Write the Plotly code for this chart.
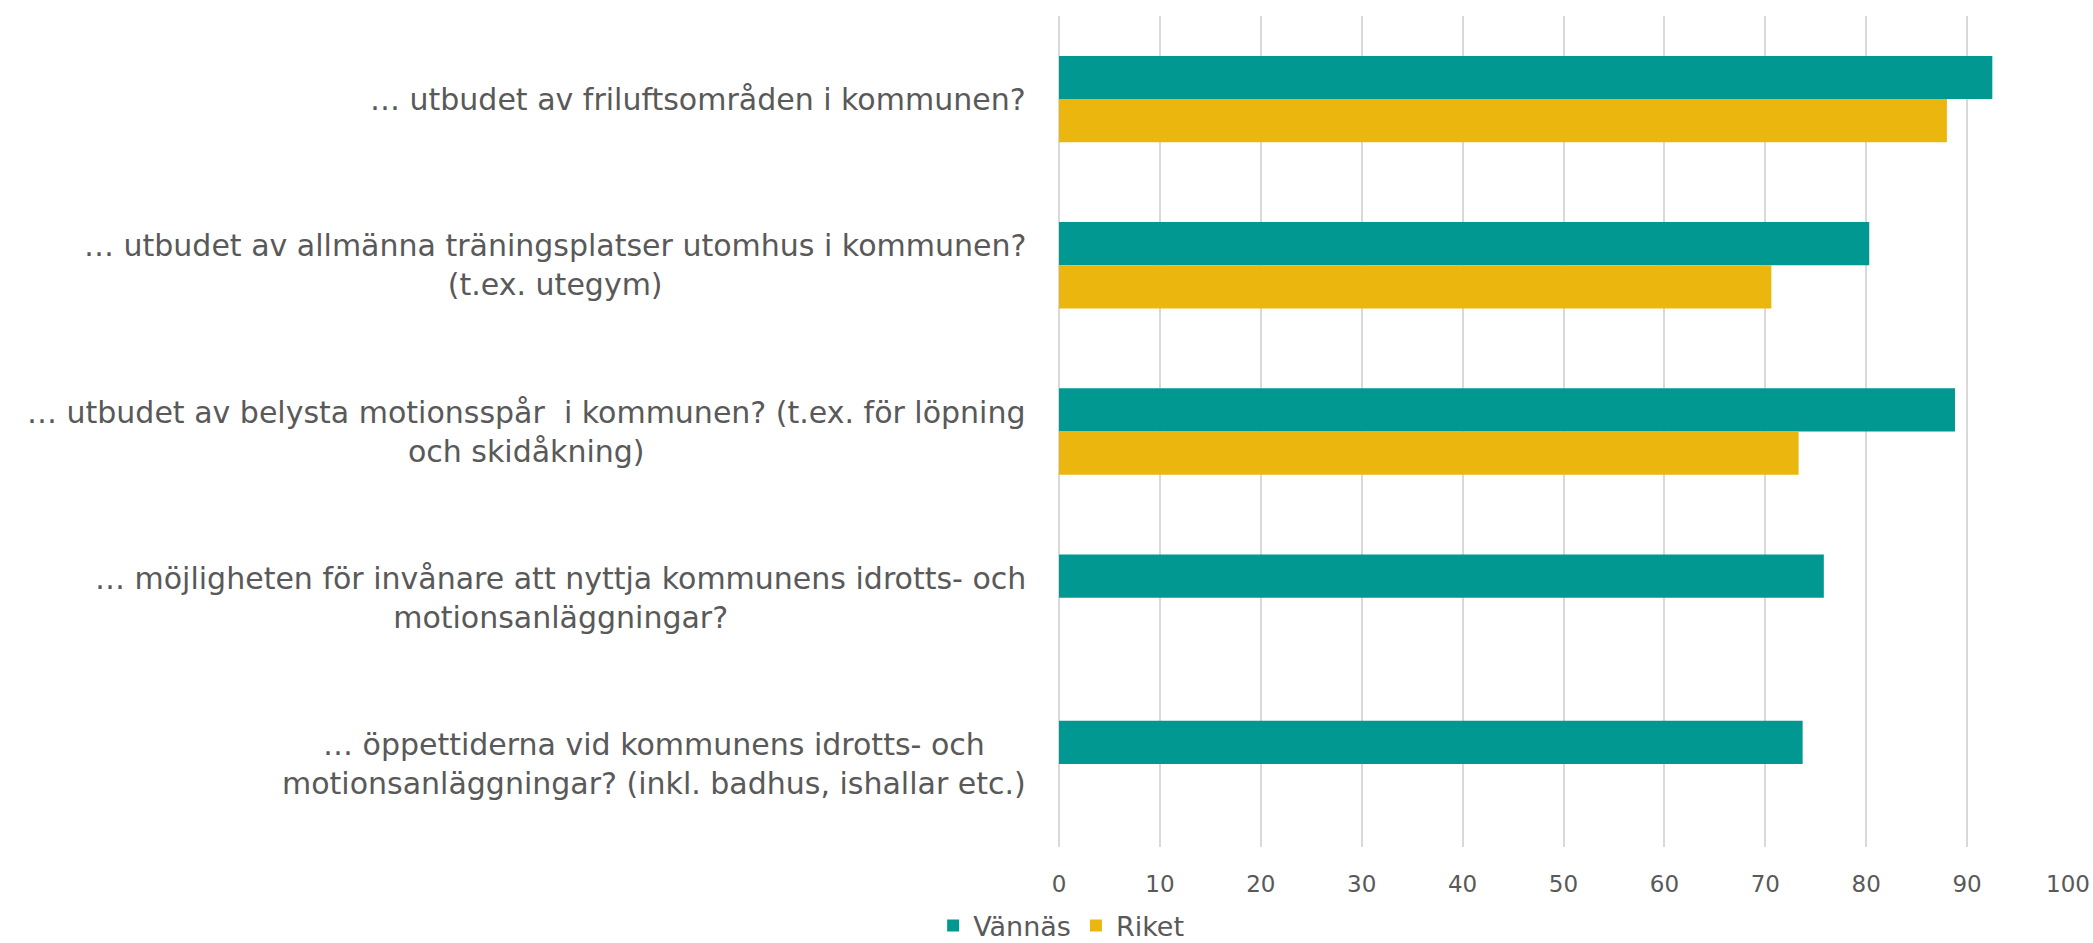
import plotly.graph_objects as go

categories = [
    "… utbudet av friluftsområden i kommunen?",
    "… utbudet av allmänna träningsplatser utomhus i kommunen?<br>(t.ex. utegym)",
    "… utbudet av belysta motionsspår  i kommunen? (t.ex. för löpning<br>och skidåkning)",
    "… möjligheten för invånare att nyttja kommunens idrotts- och<br>motionsanläggningar?",
    "… öppettiderna vid kommunens idrotts- och<br>motionsanläggningar? (inkl. badhus, ishallar etc.)",
]
vannas = [92.5, 80.3, 88.8, 75.8, 73.7]
riket = [88.0, 70.6, 73.3, None, None]
series_names = ["Vännäs", "Riket"]
colors = ["#009890", "#EBB70F"]
tick_values = [0, 10, 20, 30, 40, 50, 60, 70, 80, 90, 100]

FONT = "DejaVu Sans"
TEXT_COLOR = "#595959"

fig = go.Figure()
for name, vals, col in zip(series_names, [vannas, riket], colors):
    fig.add_trace(go.Bar(
        y=categories, x=vals, name=name, orientation="h",
        marker=dict(color=col, line=dict(width=0)),
    ))

for cat in categories:
    fig.add_annotation(
        x=0, y=cat, xref="x", yref="y", text=cat, showarrow=False,
        xanchor="right", yanchor="middle", align="center", xshift=-31,
        font=dict(family=FONT, size=30, color=TEXT_COLOR),
    )

fig.update_layout(
    width=2093, height=943,
    margin=dict(l=1059, r=25, t=16, b=96, autoexpand=False),
    paper_bgcolor="white", plot_bgcolor="white",
    barmode="group", bargap=0.48, bargroupgap=0,
    font=dict(family=FONT, color=TEXT_COLOR),
    legend=dict(
        orientation="h", xref="container", yref="container",
        x=0.507, y=0.018, xanchor="center", yanchor="middle",
        font=dict(family=FONT, size=27, color=TEXT_COLOR),
    ),
    xaxis=dict(
        range=[0, 100], tickvals=tick_values, automargin=False,
        showgrid=True, gridcolor="#D9D9D9", gridwidth=1.5,
        zeroline=True, zerolinecolor="#D9D9D9", zerolinewidth=1.5,
        showline=False,
        ticks="outside", ticklen=16, tickcolor="rgba(0,0,0,0)",
        tickfont=dict(family=FONT, size=23, color=TEXT_COLOR),
    ),
    yaxis=dict(
        autorange="reversed", showticklabels=False, showgrid=False,
        zeroline=False, showline=False, ticks="", automargin=False,
    ),
)

fig.write_html(
    "out.html",
    config={"displayModeBar": False},
    post_script="document.body.style.margin='0';document.body.style.overflow='hidden';",
)
